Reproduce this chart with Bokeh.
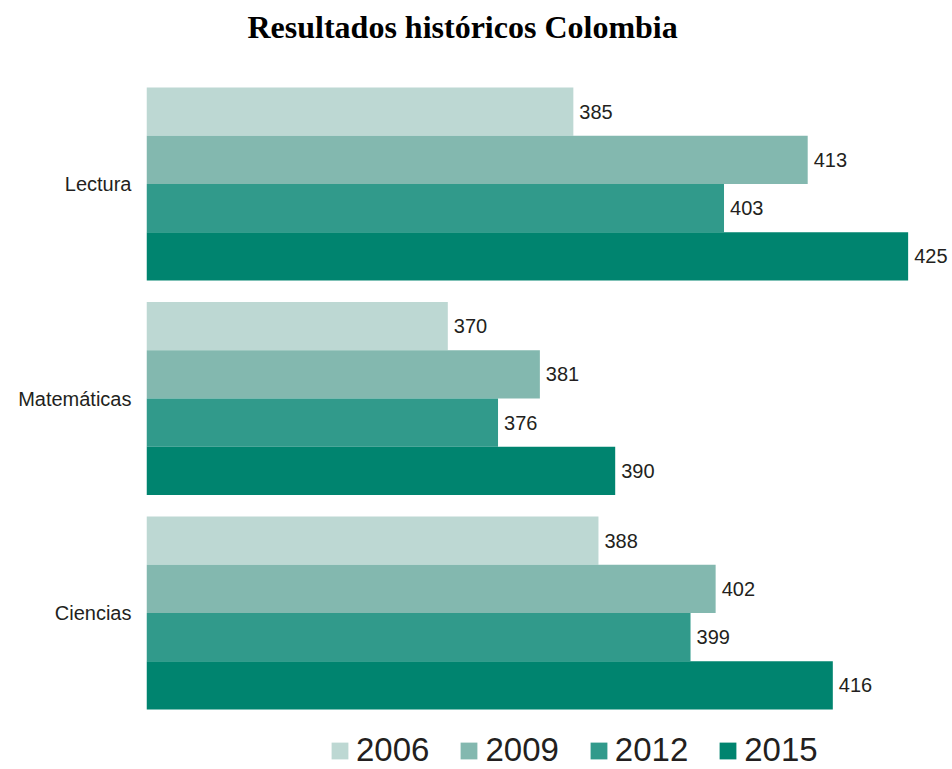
from bokeh.plotting import figure
from bokeh.models import ColumnDataSource, Range1d, FixedTicker, Legend, LegendItem, Title
from bokeh.core.properties import value
from bokeh.embed import file_html
from bokeh.resources import INLINE

categories = ["Lectura", "Matemáticas", "Ciencias"]
years = ["2006", "2009", "2012", "2015"]
scores_2006 = [385, 370, 388]
scores_2009 = [413, 381, 402]
scores_2012 = [403, 376, 399]
scores_2015 = [425, 390, 416]
colors = ["#BDD8D3", "#83B8AF", "#319A8B", "#00846F"]

series = [scores_2006, scores_2009, scores_2012, scores_2015]
X_START, X_END = 334, 430.3
GROUP_GAP = 0.446
BAR_H = 1.0
step = len(years) * BAR_H + GROUP_GAP

p = figure(width=952, height=769, output_backend="svg", toolbar_location=None,
           x_range=Range1d(X_START, X_END), y_range=Range1d(14.135, -0.767),
           min_border_left=146, min_border_right=0, min_border_top=0, min_border_bottom=0,
           outline_line_color=None)

font = "Liberation Sans"
renderers = []
for i, (yr, vals, col) in enumerate(zip(years, series, colors)):
    ys = [g * step + i * BAR_H + BAR_H / 2 for g in range(len(categories))]
    src = ColumnDataSource(dict(y=ys, v=vals, lbl=[str(v) for v in vals]))
    r = p.hbar(y="y", left=X_START, right="v", height=BAR_H, source=src,
               fill_color=col, line_color=None)
    p.text(x="v", y="y", text="lbl", source=src, x_offset=6, text_baseline="middle",
           text_align="left", text_font=value(font), text_font_size="20px", text_color="#231F20")
    renderers.append((yr, r))

p.xaxis.visible = False
p.xgrid.visible = False
p.ygrid.visible = False

centers = [g * step + len(years) * BAR_H / 2 for g in range(len(categories))]
p.yaxis.ticker = FixedTicker(ticks=centers)
p.yaxis.major_label_overrides = {c: name for c, name in zip(centers, categories)}
p.yaxis.axis_line_color = None
p.yaxis.major_tick_line_color = None
p.yaxis.minor_tick_line_color = None
p.yaxis.major_label_standoff = 9
p.yaxis.major_label_text_font = font
p.yaxis.major_label_text_font_size = "20px"
p.yaxis.major_label_text_color = "#231F20"

p.title = Title(text="Resultados históricos Colombia", align="left", offset=101,
                text_font="Liberation Serif", text_font_size="32px", text_font_style="bold",
                text_color="#000000", standoff=12)

legend = Legend(items=[LegendItem(label=yr, renderers=[r]) for yr, r in renderers],
                orientation="horizontal", location=(183, 0),
                glyph_width=21, glyph_height=21, label_standoff=6, spacing=29,
                padding=0, margin=0, border_line_color=None, background_fill_alpha=0,
                label_text_font=font, label_text_font_size="33px", label_text_color="#231F20")
p.add_layout(legend)

open("out.html", "w").write(file_html(p, INLINE))
